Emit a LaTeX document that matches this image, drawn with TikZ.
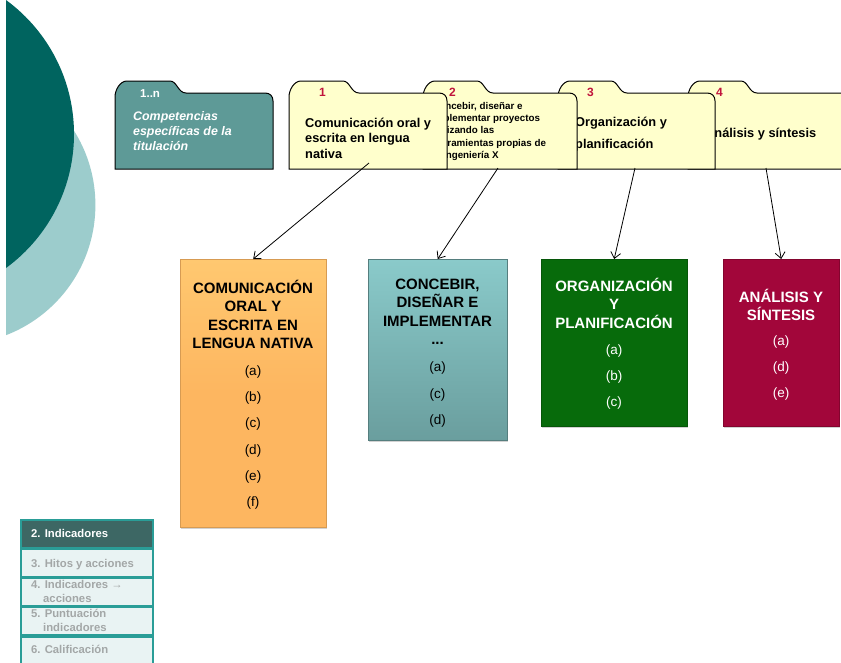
\documentclass[tikz,border=0pt]{standalone}
\usepackage{fontspec}
\setmainfont{Liberation Sans}
\usetikzlibrary{arrows.meta,shadows}
\definecolor{darkteal}{HTML}{00645F}
\definecolor{lightteal}{HTML}{9CCCCC}
\definecolor{folderteal}{HTML}{5E9A97}
\definecolor{folderyellow}{HTML}{FFFFCC}
\definecolor{rednum}{HTML}{C0143C}
\definecolor{orangebox}{HTML}{FDB660}
\definecolor{orangetop}{HTML}{FFC870}
\definecolor{tealtop}{HTML}{8ACACA}
\definecolor{tealbot}{HTML}{6A9E9E}
\definecolor{greenbox}{HTML}{076B0B}
\definecolor{crimsonbox}{HTML}{A2063A}
\definecolor{sideborder}{HTML}{2A9D97}
\definecolor{sidedark}{HTML}{3D6764}
\definecolor{sidelight}{HTML}{E9F3F3}
\definecolor{sidegray}{HTML}{A3A7A7}
\newcommand\mydots{...}
\newcommand\folderpath[4]{%
  \filldraw[folderline, fill=#4] (#1,169) -- (#1,97) .. controls (#1,90) and (#1+5,81) .. (#1+12,81)
   -- (#3-12,81) .. controls (#3-5,81) and (#3-4,93) .. (#3+4,93)
   -- (#2-8,93) .. controls (#2-3,93) and (#2,96) .. (#2,101) -- (#2,169) -- cycle;}
\newcommand\txtlines[6]{%
  \foreach \tl [count=\ii from 0] in {#5} {\node[#1] (#6-\ii) at (#2, #3+\ii*#4) {\tl};}}
\tikzset{
  folderline/.style={draw=black, line width=1pt},
  conn/.style={-{Straight Barb[length=6pt,width=10pt]}, line width=0.8pt},
  bigbox/.style={inner sep=0pt, anchor=north west, line width=0.4pt,
    drop shadow={shadow xshift=1pt, shadow yshift=-2pt, opacity=0.35}},
  boxtitle/.style={anchor=base, inner sep=0pt, font=\fontsize{15}{18}\selectfont\bfseries},
  boxitem/.style={anchor=base, inner sep=0pt, font=\fontsize{13.5}{16}\selectfont},
  foldertext/.style={anchor=base west, inner sep=0pt, font=\fontsize{12.8}{15}\selectfont\bfseries},
  smallfoldertext/.style={anchor=base west, inner sep=0pt, font=\fontsize{9.8}{12}\selectfont\bfseries},
  foldernum/.style={anchor=base west, inner sep=0pt, text=rednum, font=\fontsize{12}{14}\selectfont\bfseries},
  sidebox/.style={draw=sideborder, line width=1.6pt, anchor=north west, inner sep=0pt, minimum width=132pt},
  sidetext/.style={anchor=base west, inner sep=0pt, font=\fontsize{11.3}{13}\selectfont\bfseries}
}
\begin{document}
\begin{tikzpicture}[x=1pt,y=-1pt]
\useasboundingbox[fill=white] (0,0) rectangle (841,662);
% background circles
\begin{scope}
  \clip (6,0) rectangle (300,662);
  \fill[lightteal] (-44,205) circle[radius=139.4pt];
  \fill[darkteal] (-92,134) circle[radius=166pt];
\end{scope}
% folder 1..n
\folderpath{115}{273}{182}{folderteal}
\node[anchor=base west, inner sep=0pt, text=white, font=\fontsize{11.5}{13}\selectfont\bfseries] (fn-num) at (140,97) {1..n};
\txtlines{anchor=base west, inner sep=0pt, text=white, font=\fontsize{12.4}{15}\selectfont\bfseries\itshape}{133}{120}{15}{Competencias, específicas de la, titulación}{fn}
% folder 4
\folderpath{688}{860}{753}{folderyellow}
\node[foldernum] (f4-num) at (716,96) {4};
\node[foldertext] (f4-t) at (705,137) {Análisis y síntesis};
% folder 3
\folderpath{558}{715}{623}{folderyellow}
\node[foldernum] (f3-num) at (587,96) {3};
\txtlines{foldertext}{575}{126}{22}{Organización y, planificación}{f3}
% folder 2
\folderpath{423}{577}{489}{folderyellow}
\node[foldernum] (f2-num) at (449,96) {2};
\txtlines{smallfoldertext}{432}{109}{12.4}{{Concebir, diseñar e}, implementar proyectos, utilizando las, herramientas propias de, la Ingeniería X}{f2}
% folder 1
\folderpath{289}{447}{355}{folderyellow}
\node[foldernum] (f1-num) at (319,96) {1};
\txtlines{foldertext}{305}{127}{15.5}{Comunicación oral y, escrita en lengua, nativa}{f1}
% boxes
\node[bigbox, draw=orangebox!85!black, top color=orangetop, bottom color=orangebox, middle color=orangebox,
  minimum width=146pt, minimum height=268pt] (ob) at (180,259) {};
\node[bigbox, draw=tealbot!80!black, top color=tealtop, bottom color=tealbot,
  minimum width=139pt, minimum height=181pt] (tb) at (368,259) {};
\node[bigbox, draw=greenbox!80!black, fill=greenbox,
  minimum width=146pt, minimum height=167pt] (gb) at (541,259) {};
\node[bigbox, draw=crimsonbox!80!black, fill=crimsonbox,
  minimum width=116pt, minimum height=167pt] (cb) at (723,259) {};
% box texts
\txtlines{boxtitle}{253}{293}{18.5}{COMUNICACIÓN, ORAL Y, ESCRITA EN, LENGUA NATIVA}{obt}
\txtlines{boxitem}{253}{375.5}{26.2}{(a),(b),(c),(d),(e),(f)}{obi}
\txtlines{boxtitle}{437.5}{289}{18.5}{{CONCEBIR,}, DISEÑAR E, IMPLEMENTAR, \mydots}{tbt}
\txtlines{boxitem}{437.5}{371.5}{26.5}{(a),(c),(d)}{tbi}
\txtlines{boxtitle, text=white}{614}{291}{18.5}{ORGANIZACIÓN, Y, PLANIFICACIÓN}{gbt}
\txtlines{boxitem, text=white}{614}{354.5}{26}{(a),(b),(c)}{gbi}
\txtlines{boxtitle, text=white}{781}{302}{18}{ANÁLISIS Y, SÍNTESIS}{cbt}
\txtlines{boxitem, text=white}{781}{345.5}{26}{(a),(d),(e)}{cbi}
% connectors
\coordinate (f1out) at (369,163);
\coordinate (f2out) at (498,168);
\coordinate (f3out) at (635,168);
\coordinate (f4out) at (766,168);
\draw[conn] (f1out) -- (ob.north);
\draw[conn] (f2out) -- (tb.north);
\draw[conn] (f3out) -- (gb.north);
\draw[conn] (f4out) -- (cb.north);
% sidebar
\node[sidebox, fill=sidedark, minimum height=28pt] (s2) at (20,519) {};
\node[sidebox, fill=sidelight, minimum height=28pt] (s3) at (20,548) {};
\node[sidebox, fill=sidelight, minimum height=28pt] (s4) at (20,577) {};
\node[sidebox, fill=sidelight, minimum height=28pt] (s5) at (20,606) {};
\node[sidebox, fill=sidelight, minimum height=30pt] (s6) at (20,636) {};
\node[sidetext, text=white] (s2t) at (31,537) {2. Indicadores};
\node[sidetext, text=sidegray] (s3t) at (31,567) {3. Hitos y acciones};
\node[sidetext, text=sidegray] (s4t) at (31,588) {4. Indicadores →};
\node[sidetext, text=sidegray] (s4u) at (43,602) {acciones};
\node[sidetext, text=sidegray] (s5t) at (31,617) {5. Puntuación};
\node[sidetext, text=sidegray] (s5u) at (43,631) {indicadores};
\node[sidetext, text=sidegray] (s6t) at (31,653) {6. Calificación};
\end{tikzpicture}
\end{document}
